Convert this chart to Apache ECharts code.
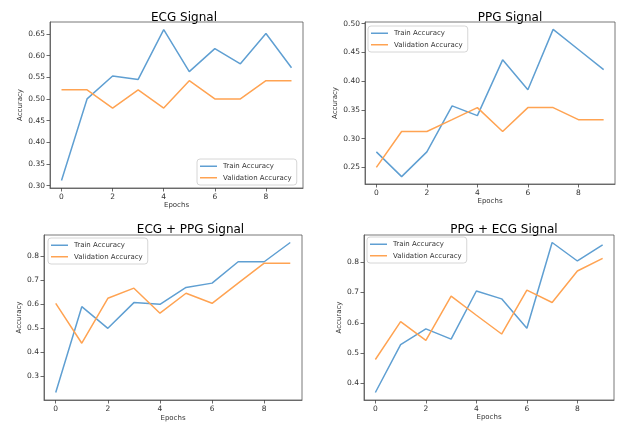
<!DOCTYPE html>
<html><head><meta charset="utf-8">
<script src="https://cdn.jsdelivr.net/npm/echarts@6/dist/echarts.min.js"></script>
<style>html,body{margin:0;padding:0;background:#fff}#c{width:620px;height:425px}</style>
</head><body><div id="c"></div>
<script>
const epochs = [0,1,2,3,4,5,6,7,8,9];
const titles = ['ECG Signal','PPG Signal','ECG + PPG Signal','PPG + ECG Signal'];
const ecgTrain = [0.312,0.500,0.553,0.545,0.660,0.563,0.616,0.581,0.651,0.572];
const ecgVal   = [0.521,0.521,0.479,0.521,0.479,0.542,0.500,0.500,0.542,0.542];
const ppgTrain = [0.277,0.234,0.277,0.357,0.340,0.437,0.385,0.490,0.455,0.420];
const ppgVal   = [0.250,0.3125,0.3125,0.333,0.354,0.3125,0.354,0.354,0.333,0.333];
const ecgPpgTrain = [0.233,0.590,0.500,0.607,0.600,0.670,0.688,0.777,0.777,0.857];
const ecgPpgVal   = [0.604,0.438,0.625,0.667,0.563,0.646,0.604,0.688,0.771,0.771];
const ppgEcgTrain = [0.370,0.528,0.580,0.546,0.705,0.679,0.582,0.865,0.804,0.857];
const ppgEcgVal   = [0.479,0.604,0.542,0.688,0.625,0.563,0.708,0.667,0.771,0.8125];
const xTicks = [0,2,4,6,8];
const yTicks = [
  [0.30,0.35,0.40,0.45,0.50,0.55,0.60,0.65],
  [0.25,0.30,0.35,0.40,0.45,0.50],
  [0.3,0.4,0.5,0.6,0.7,0.8],
  [0.4,0.5,0.6,0.7,0.8]
];
const yDecimals = [2,2,1,1];
const trainSets = [ecgTrain, ppgTrain, ecgPpgTrain, ppgEcgTrain];
const valSets = [ecgVal, ppgVal, ecgPpgVal, ppgEcgVal];

const grids = [
  {left:50, top:22, width:253, height:166},
  {left:365, top:22, width:250, height:162},
  {left:44, top:235, width:258, height:165},
  {left:364, top:235, width:250, height:165}
];
const titlePos = [[179,7],[505,7],[185.5,219],[499,219]];
const yNameGap = [26,26,20,20];
const xNameGap = [14,13,15,14];
const legendPos = [
  {left:197, top:159},
  {left:368, top:26},
  {left:48, top:238},
  {left:367, top:237}
];
const blue = '#5f9fd2', orange = '#ffa352';
const font = 'DejaVu Sans';

const option = {
  animation:false,
  title: titles.map((t,i)=>({text:t, left:titlePos[i][0], top:titlePos[i][1], textAlign:'center',
    textStyle:{fontSize:12, fontWeight:'normal', color:'#000', fontFamily:font}})),
  grid: grids.map(g=>Object.assign({show:true, borderColor:'#555', borderWidth:0.8, backgroundColor:'#fff'}, g)),
  legend: legendPos.map(p=>Object.assign({orient:'vertical', data:['Train Accuracy','Validation Accuracy'],
    icon:'rect', itemWidth:17, itemHeight:1.5, itemGap:3, padding:[3,5,3,3], borderColor:'#ccc', borderWidth:0.8, borderRadius:3,
    backgroundColor:'rgba(255,255,255,0.8)', selectedMode:false,
    textStyle:{fontSize:7, lineHeight:8.5, color:'#333', fontFamily:font, padding:[0,0,0,1]}}, p)),
  xAxis: grids.map((g,i)=>({type:'value', gridIndex:i, min:-0.45, max:9.45,
    name:'Epochs', nameLocation:'middle', nameGap:xNameGap[i], nameTextStyle:{fontSize:7, color:'#333', fontFamily:font},
    splitLine:{show:false}, axisLine:{show:true, onZero:false, lineStyle:{color:'#555', width:0.8}},
    axisTick:{show:true, inside:false, length:3.5, customValues:xTicks, lineStyle:{color:'#444', width:0.8}},
    axisLabel:{fontSize:7.5, color:'#333', fontFamily:font, margin:5, customValues:xTicks}})),
  yAxis: grids.map((g,i)=>{
    const all = trainSets[i].concat(valSets[i]);
    const lo = Math.min(...all), hi = Math.max(...all), m = (hi-lo)*0.05;
    return {type:'value', gridIndex:i, min:lo-m, max:hi+m,
      name:'Accuracy', nameLocation:'middle', nameGap:yNameGap[i], nameTextStyle:{fontSize:7, color:'#333', fontFamily:font},
      splitLine:{show:false}, axisLine:{show:true, onZero:false, lineStyle:{color:'#555', width:0.8}},
      axisTick:{show:true, inside:false, length:3.5, customValues:yTicks[i], lineStyle:{color:'#444', width:0.8}},
      axisLabel:{fontSize:7.5, color:'#333', fontFamily:font, margin:5, customValues:yTicks[i],
        formatter:v=>v.toFixed(yDecimals[i])}};
  }),
  series: []
};
for (let i=0;i<4;i++){
  option.series.push({name:'Train Accuracy', type:'line', xAxisIndex:i, yAxisIndex:i, symbol:'none',
    lineStyle:{color:blue, width:1.5}, itemStyle:{color:blue}, data:epochs.map((e,k)=>[e,trainSets[i][k]])});
  option.series.push({name:'Validation Accuracy', type:'line', xAxisIndex:i, yAxisIndex:i, symbol:'none',
    lineStyle:{color:orange, width:1.5}, itemStyle:{color:orange}, data:epochs.map((e,k)=>[e,valSets[i][k]])});
}
const chart = echarts.init(document.getElementById('c'), null, {renderer:'canvas'});
chart.setOption(option);
</script></body></html>
